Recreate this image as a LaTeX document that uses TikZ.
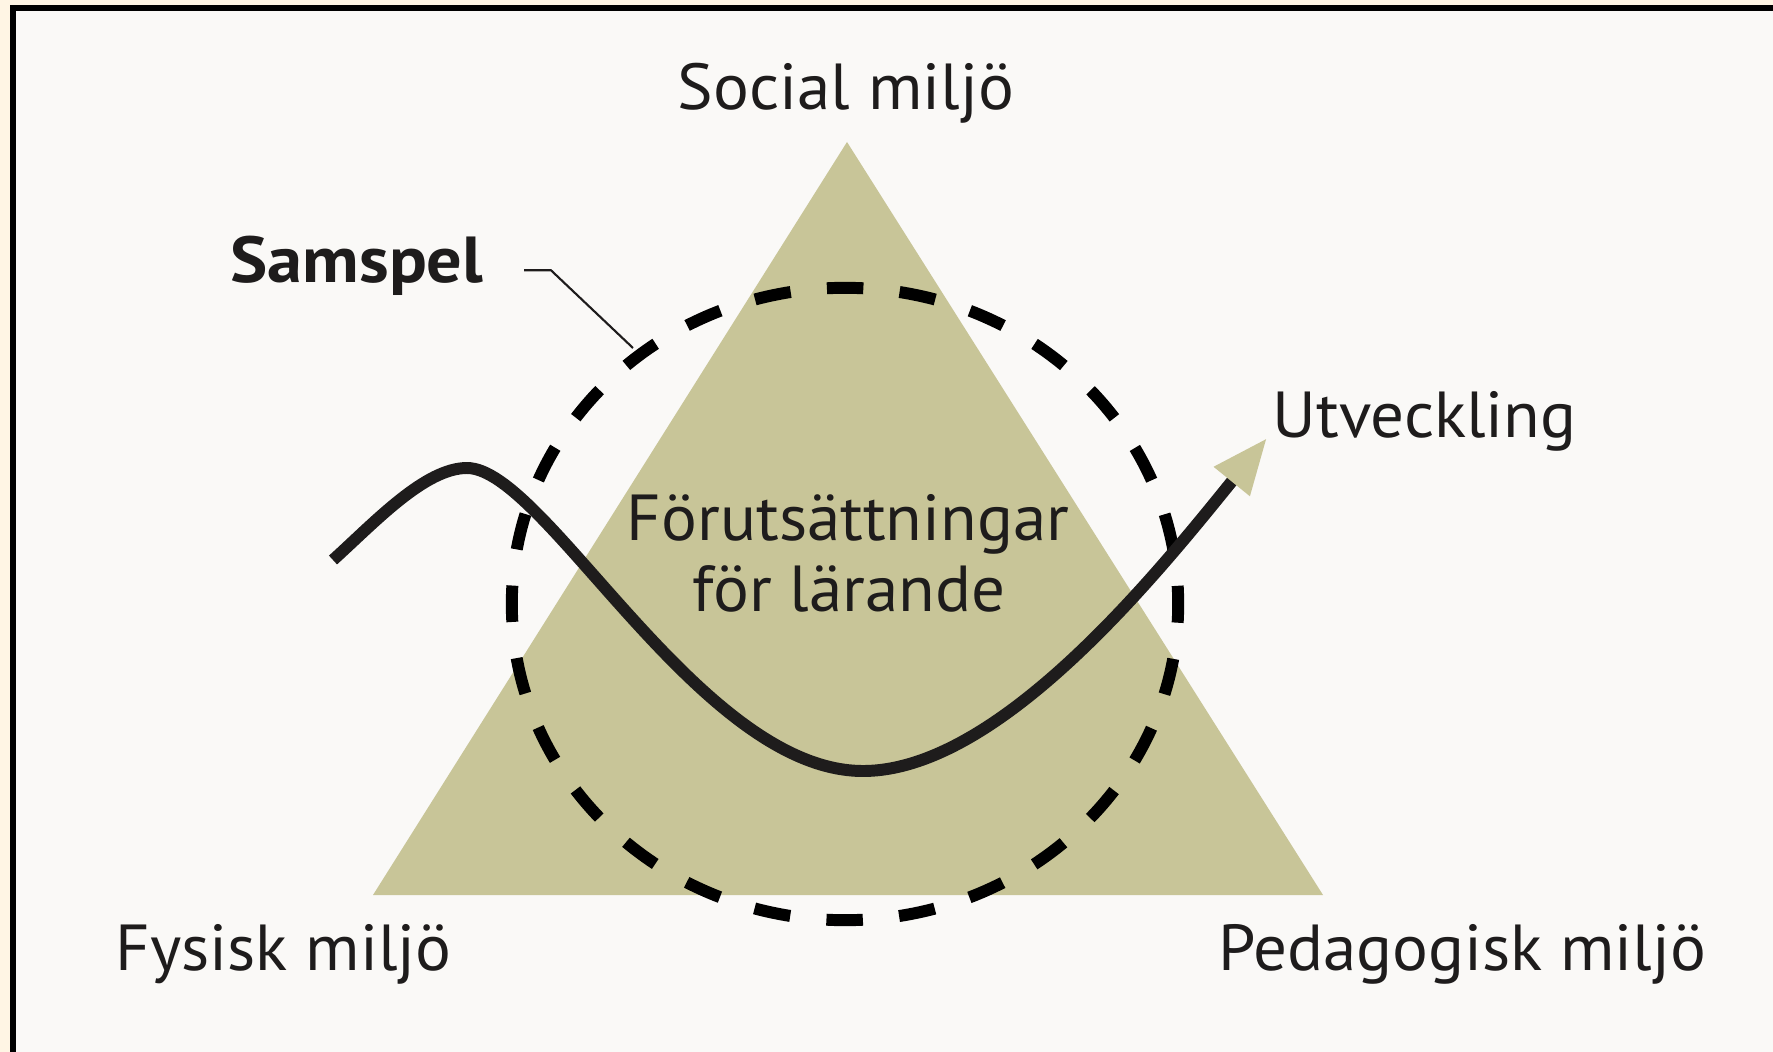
\documentclass[tikz,border=0pt]{standalone}
\usepackage{fontspec}
\setmainfont{PT Sans}[FakeStretch=1.03,BoldFeatures={FakeStretch=1.08}]
\usetikzlibrary{arrows.meta}
\definecolor{khaki}{RGB}{200,197,152}
\definecolor{paper}{RGB}{250,249,247}
\definecolor{cream}{RGB}{255,245,228}
\definecolor{ink}{RGB}{30,28,28}

\begin{document}
\begin{tikzpicture}[x=0.01cm,y=-0.01cm,
    lbl/.style={inner sep=0pt,text=ink,font=\fontsize{18.5}{22}\selectfont},
    leader/.style={draw=ink,line width=0.6pt}]
  % units are pixels of the original picture, y runs downwards
  \fill[cream] (0,0) rectangle (1773,1052);
  \fill[paper] (10,5) rectangle (1773,1052);
  \fill[black] (10,5) rectangle (1773,11);
  \fill[black] (10,5) rectangle (16,1052);
  \useasboundingbox (0,0) rectangle (1773,1052);
  \fill[khaki] (847,142) -- (1323,895) -- (373,895) -- cycle;
  \draw[line width=3.4pt,dash pattern=on 10.36pt off 10.36pt,dash phase=5.18pt]
    (845,604) ellipse[x radius=3.33cm,y radius=3.16cm];
  \draw[line width=3.4pt,ink,-{Triangle[length=0.56cm,width=0.43cm,color=khaki]}]
    (333,560) .. controls (375,522) and (425,468) .. (467,468)
    .. controls (545,468) and (700,771) .. (863,771)
    .. controls (1000,771) and (1160,570) .. (1267,438);
  \node[lbl,anchor=base] (social) at (846,110) {Social miljö};
  \node[lbl,anchor=base west,font=\fontsize{18.5}{22}\selectfont\bfseries] (samspel) at (230,283) {Samspel};
  \node[lbl,anchor=base west] (utveckling) at (1272,438) {Utveckling};
  \node[lbl,anchor=base] (forut) at (848,540) {Förutsättningar};
  \node[lbl,anchor=base] (larande) at (849,611) {för lärande};
  \node[lbl,anchor=base west] (fysisk) at (115,970) {Fysisk miljö};
  \node[lbl,anchor=base east] (pedagogisk) at (1707,970) {Pedagogisk miljö};
  \coordinate (samtip) at (633,348);
  \draw[leader] (samspel.east) ++(40,4) -- ++(27,0) -- (samtip);
\end{tikzpicture}
\end{document}
